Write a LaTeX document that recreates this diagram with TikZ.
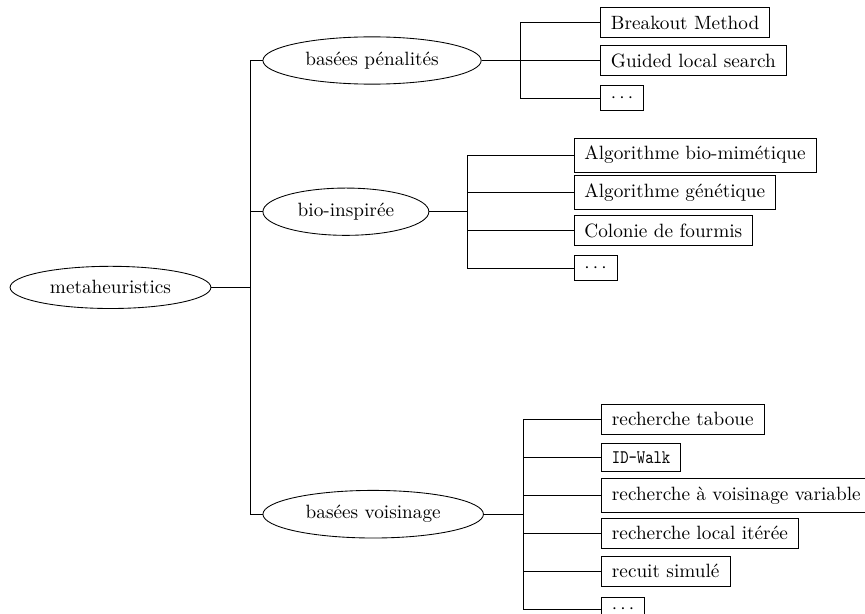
\documentclass[tikz,border=0pt]{standalone}
\usepackage{fontspec}
\usepackage{graphicx}
\usetikzlibrary{shapes.geometric}
\begin{document}
\begin{tikzpicture}[x=0.5198pt,y=-0.5198pt,
  line width=0.45pt,
  every node/.style={inner xsep=5.45pt,inner ysep=4.23pt,font=\fontsize{10}{12}\selectfont},
  ell/.style={draw,ellipse},
  leaf/.style={draw,rectangle,anchor=west},
  conn/.style={draw}]
\useasboundingbox (0,0) rectangle (865,613);
\clip (0,0) rectangle (865,613);

% level 0 and 1
\node[ell] (root) at (110.5,287.4) {metaheuristics};
\node[ell,anchor=west] (pen) at (262.5,60.5) {basées pénalités};
\node[ell,anchor=west] (bio) at (262.5,211.7) {bio-inspirée};
\node[ell,anchor=west] (voi) at (262.5,514.2) {basées voisinage};

\coordinate (ft) at (250,287.4);
\draw[conn] (root.east) -- (ft) |- (pen.west);
\draw[conn] (root.east) -- (ft) |- (bio.west);
\draw[conn] (root.east) -- (ft) |- (voi.west);

% penalties
\node[leaf] (p1) at (600,22.7) {Breakout Method};
\node[leaf] (p2) at (600,60.7) {Guided local search};
\node[leaf] (p3) at (600,98.3) {$\cdots$};
\coordinate (fp) at (520,60.5);
\foreach \c in {p1,p2,p3} \draw[conn] (pen.east) -- (fp) |- (\c.west);

% bio-inspired
\node[leaf] (b1) at (573.5,155) {Algorithme bio-mimétique};
\node[leaf] (b2) at (573.5,192.7) {Algorithme génétique};
\node[leaf] (b3) at (573.5,230.7) {Colonie de fourmis};
\node[leaf] (b4) at (573.5,268.3) {$\cdots$};
\coordinate (fb) at (467.7,211.7);
\foreach \c in {b1,b2,b3,b4} \draw[conn] (bio.east) -- (fb) |- (\c.west);

% neighbourhood
\node[leaf] (v1) at (601,419.3) {recherche taboue};
\node[leaf] (v2) at (601,457.3) {\scalebox{0.825}[1]{\texttt{ID-Walk}}};
\node[leaf] (v3) at (601,495.3) {recherche à voisinage variable};
\node[leaf] (v4) at (601,533) {recherche local itérée};
\node[leaf] (v5) at (601,571.3) {recuit simulé};
\node[leaf] (v6) at (601,609.5) {$\cdots$};
\coordinate (fv) at (523.3,514.2);
\foreach \c in {v1,v2,v3,v4,v5,v6} \draw[conn] (voi.east) -- (fv) |- (\c.west);
\end{tikzpicture}
\end{document}
